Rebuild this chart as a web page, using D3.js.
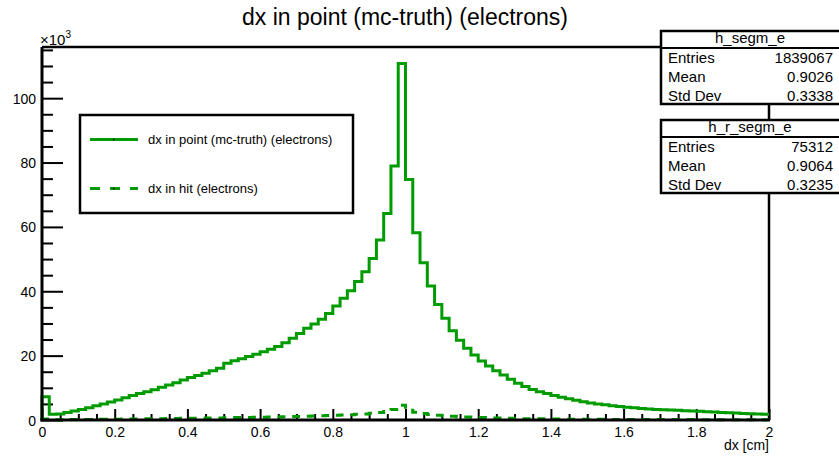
<!DOCTYPE html>
<html><head><meta charset="utf-8">
<script src="https://cdn.jsdelivr.net/npm/d3@7"></script>
<style>
html,body{margin:0;padding:0;background:#fff;}
svg{display:block;font-family:"Liberation Sans",Arial,Helvetica,sans-serif;}
</style></head>
<body>
<svg id="c" width="839" height="458"></svg>
<script>
// ---- data (values in units of 10^3 entries per bin of 0.02 cm) ----
const binEdges = [0, 2];
const nBins = 100;
const segmValues = [
 7.2, 1.8, 1.9, 2.3, 2.8, 3.3, 3.8, 4.4, 5.0, 5.6,
 6.2, 6.9, 7.6, 8.2, 8.8, 9.4, 10.2, 10.9, 11.6, 12.4,
 13.2, 13.8, 14.5, 15.3, 16.1, 17.6, 18.4, 19.0, 19.7, 20.4,
 21.2, 22.0, 22.8, 24.0, 25.4, 26.9, 28.5, 29.8, 31.3, 33.1,
 35.4, 37.8, 40.2, 43.0, 46.1, 50.2, 55.9, 64.2, 78.9, 110.8,
 74.7, 58.2, 48.9, 41.6, 35.9, 31.6, 27.7, 24.8, 22.3, 20.2,
 18.3, 16.8, 15.3, 14.0, 12.7, 11.4, 10.4, 9.5, 8.8, 8.2,
 7.6, 7.1, 6.6, 6.1, 5.7, 5.3, 5.0, 4.7, 4.4, 4.2,
 4.0, 3.8, 3.6, 3.45, 3.3, 3.2, 3.1, 3.0, 2.9, 2.8,
 2.7, 2.55, 2.45, 2.35, 2.25, 2.15, 2.05, 1.95, 1.85, 1.75
];
const hitValues = [
 0.3, 0.08, 0.08, 0.1, 0.12, 0.14, 0.16, 0.18, 0.2, 0.23,
 0.25, 0.28, 0.31, 0.34, 0.36, 0.39, 0.42, 0.45, 0.48, 0.51,
 0.54, 0.57, 0.6, 0.63, 0.66, 0.72, 0.75, 0.78, 0.81, 0.84,
 0.87, 0.9, 0.94, 0.99, 1.05, 1.11, 1.18, 1.24, 1.3, 1.37,
 1.46, 1.56, 1.66, 1.77, 1.9, 2.06, 2.3, 2.63, 3.24, 4.55,
 3.06, 2.39, 2.0, 1.7, 1.47, 1.3, 1.13, 1.02, 0.92, 0.83,
 0.75, 0.69, 0.63, 0.57, 0.52, 0.47, 0.42, 0.39, 0.36, 0.33,
 0.31, 0.29, 0.27, 0.25, 0.23, 0.22, 0.21, 0.2, 0.19, 0.18,
 0.17, 0.16, 0.15, 0.15, 0.14, 0.14, 0.13, 0.13, 0.12, 0.12,
 0.11, 0.11, 0.1, 0.1, 0.1, 0.09, 0.09, 0.09, 0.08, 0.08
];
const xMajorTicks = [0, 0.2, 0.4, 0.6, 0.8, 1, 1.2, 1.4, 1.6, 1.8, 2];
const xTickLabels = ["0","0.2","0.4","0.6","0.8","1","1.2","1.4","1.6","1.8","2"];
const yMajorTicks = [0, 20, 40, 60, 80, 100];
const yTickLabels = ["0","20","40","60","80","100"];
const title = "dx in point (mc-truth) (electrons)";
const xTitle = "dx [cm]";
const legendLabels = ["dx in point (mc-truth) (electrons)", "dx in hit (electrons)"];
const statNames = ["h_segm_e", "h_r_segm_e"];
const statRows = ["Entries", "Mean", "Std Dev"];
const statVals1 = ["1839067", "0.9026", "0.3338"];
const statVals2 = ["75312", "0.9064", "0.3235"];

// ---- layout ----
const L = 42, R = 769, T = 47, B = 420;
const green = "#009b00";
const svg = d3.select("#c");

const x = d3.scaleLinear().domain(binEdges).range([L, R]);
const y = d3.scaleLinear().domain([0, 115.9]).range([B, T]);
const bw = (binEdges[1] - binEdges[0]) / nBins;

function stepPts(vals) {
  const pts = [[binEdges[0], 0]];
  vals.forEach((v, i) => pts.push([binEdges[0] + i * bw, v]));
  pts.push([binEdges[1], vals[vals.length - 1]]);
  return pts;
}
const line = d3.line().x(d => x(d[0])).y(d => y(d[1])).curve(d3.curveStepAfter);

// frame top/right
svg.append("path").attr("d", `M${L},${T}H${R}V${B}`).attr("fill","none")
  .attr("stroke","#000").attr("stroke-width",2.5);

// minor ticks
const xMinor = d3.range(0, 2.0001, 0.05).filter(v => Math.abs(v*5 - Math.round(v*5)) > 1e-6);
const yMinor = d3.range(0, 116, 5).filter(v => v % 20 !== 0);

const gxMin = svg.append("g").attr("transform", `translate(0,${B})`)
  .call(d3.axisBottom(x).tickValues(xMinor).tickSize(-6).tickSizeOuter(0).tickFormat(""));
const gx = svg.append("g").attr("transform", `translate(0,${B})`)
  .call(d3.axisBottom(x).tickValues(xMajorTicks).tickSize(-11).tickSizeOuter(0)
    .tickFormat((d, i) => xTickLabels[i]).tickPadding(7));
const gyMin = svg.append("g").attr("transform", `translate(${L},0)`)
  .call(d3.axisLeft(y).tickValues(yMinor).tickSize(-11).tickSizeOuter(0).tickFormat(""));
const gy = svg.append("g").attr("transform", `translate(${L},0)`)
  .call(d3.axisLeft(y).tickValues(yMajorTicks).tickSize(-21).tickSizeOuter(0)
    .tickFormat((d, i) => yTickLabels[i]).tickPadding(6));

[gxMin, gx, gyMin, gy].forEach(g => {
  g.selectAll(".tick line").attr("stroke","#000").attr("stroke-width",2);
  g.select(".domain").remove();
  g.selectAll("text").attr("font-size", 14).attr("fill","#000")
    .attr("font-family", '"Liberation Sans",Arial,sans-serif');
});
gy.selectAll("text").attr("dy", "0.36em");

// histograms
svg.append("path").attr("d", line(stepPts(hitValues))).attr("fill","none")
  .attr("stroke", green).attr("stroke-width", 3).attr("stroke-dasharray","8,7");
svg.append("path").attr("d", line(stepPts(segmValues))).attr("fill","none")
  .attr("stroke", green).attr("stroke-width", 3);

// axes lines
svg.append("line").attr("x1", L).attr("x2", L).attr("y1", T).attr("y2", B+1.5)
  .attr("stroke","#000").attr("stroke-width",3);
svg.append("line").attr("x1", L-1.5).attr("x2", R+1).attr("y1", B).attr("y2", B)
  .attr("stroke","#000").attr("stroke-width",3);

// axis title & multiplier
svg.append("text").attr("x", R).attr("y", 450).attr("text-anchor","end")
  .attr("font-size", 14).text(xTitle);
const mult = svg.append("text").attr("x", 40).attr("y", 45).attr("font-size", 15);
mult.append("tspan").text("\u00d710");
mult.append("tspan").attr("dy", -7).attr("font-size", 10).text("3");

// title
svg.append("text").attr("x", 405).attr("y", 25).attr("text-anchor","middle")
  .attr("font-size", 23).text(title);

// legend
const lg = svg.append("g");
lg.append("rect").attr("x", 80).attr("y", 115).attr("width", 273).attr("height", 98)
  .attr("fill","#fff").attr("stroke","#000").attr("stroke-width",2.5);
const legY = [139.5, 188.5];
legendLabels.forEach((lab, i) => {
  lg.append("line").attr("x1", 90).attr("x2", 138).attr("y1", legY[i]).attr("y2", legY[i])
    .attr("stroke", green).attr("stroke-width", 3)
    .attr("stroke-dasharray", i === 1 ? "10,10" : null);
  lg.append("rect").attr("x", 113).attr("y", legY[i]-0.75).attr("width",1.5).attr("height",1.5).attr("fill","#000");
  lg.append("text").attr("x", 148).attr("y", legY[i]).attr("dy","0.35em")
    .attr("font-size", 13).text(lab);
});

// stats boxes
function statBox(top, name, vals) {
  const g = svg.append("g");
  g.append("rect").attr("x", 661).attr("y", top).attr("width", 185).attr("height", 73)
    .attr("fill","#fff").attr("stroke","#000").attr("stroke-width",2.5);
  g.append("line").attr("x1", 661).attr("x2", 846).attr("y1", top+17).attr("y2", top+17)
    .attr("stroke","#000").attr("stroke-width",2);
  g.append("text").attr("x", 750).attr("y", top+6.5).attr("dy","0.35em")
    .attr("text-anchor","middle").attr("font-size",15).text(name);
  statRows.forEach((r, i) => {
    const yy = top + 26.5 + i * 19;
    g.append("text").attr("x", 668).attr("y", yy).attr("dy","0.35em").attr("font-size",15).text(r);
    g.append("text").attr("x", 833).attr("y", yy).attr("dy","0.35em").attr("text-anchor","end")
      .attr("font-size",15).text(vals[i]);
  });
}
statBox(31, statNames[0], statVals1);
statBox(120, statNames[1], statVals2);
</script>
</body></html>
